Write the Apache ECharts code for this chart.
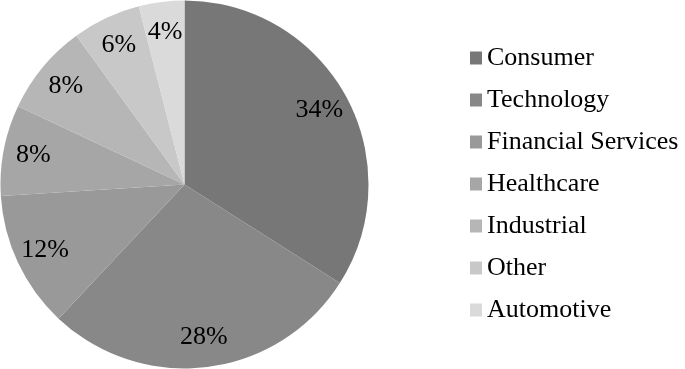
<!DOCTYPE html>
<html>
<head>
<meta charset="utf-8">
<script src="https://cdn.jsdelivr.net/npm/echarts@6/dist/echarts.min.js"></script>
<style>html,body{margin:0;padding:0;background:#fff;}#c{width:685px;height:369px;}</style>
</head>
<body>
<div id="c"></div>
<script>
const categories = ['Consumer','Technology','Financial Services','Healthcare','Industrial','Other','Automotive'];
const values = [34, 28, 12, 8, 8, 6, 4];
const colors = ['#777777','#888888','#999999','#a6a6a6','#b6b6b6','#c8c8c8','#dadada'];

const data = categories.map((c, i) => ({ name: c, value: values[i] }));
const chart = echarts.init(document.getElementById('c'), null, { renderer: 'canvas' });
chart.setOption({
  animation: false,
  color: colors,
  legend: {
    orient: 'vertical',
    left: 465,
    top: 40,
    padding: 5,
    itemWidth: 12,
    itemHeight: 13,
    itemGap: 16,
    icon: 'rect',
    textStyle: { fontFamily: 'Liberation Serif', fontSize: 26, lineHeight: 26, color: '#000' },
    data: categories
  },
  series: [
    {
      type: 'pie',
      center: [184.5, 184.5],
      radius: [0, 184],
      startAngle: 90,
      clockwise: true,
      silent: true,
      label: { show: false },
      labelLine: { show: false },
      itemStyle: { borderWidth: 0 },
      data: data
    },
    {
      type: 'pie',
      center: [184.5, 184.5],
      radius: [118, 184],
      startAngle: 90,
      clockwise: true,
      silent: true,
      itemStyle: { color: 'rgba(0,0,0,0)', borderWidth: 0 },
      label: {
        show: true,
        position: 'inside',
        formatter: p => p.value + '%',
        fontFamily: 'Liberation Serif',
        fontSize: 26,
        color: '#000'
      },
      labelLine: { show: false },
      data: data
    }
  ]
});
</script>
</body>
</html>
